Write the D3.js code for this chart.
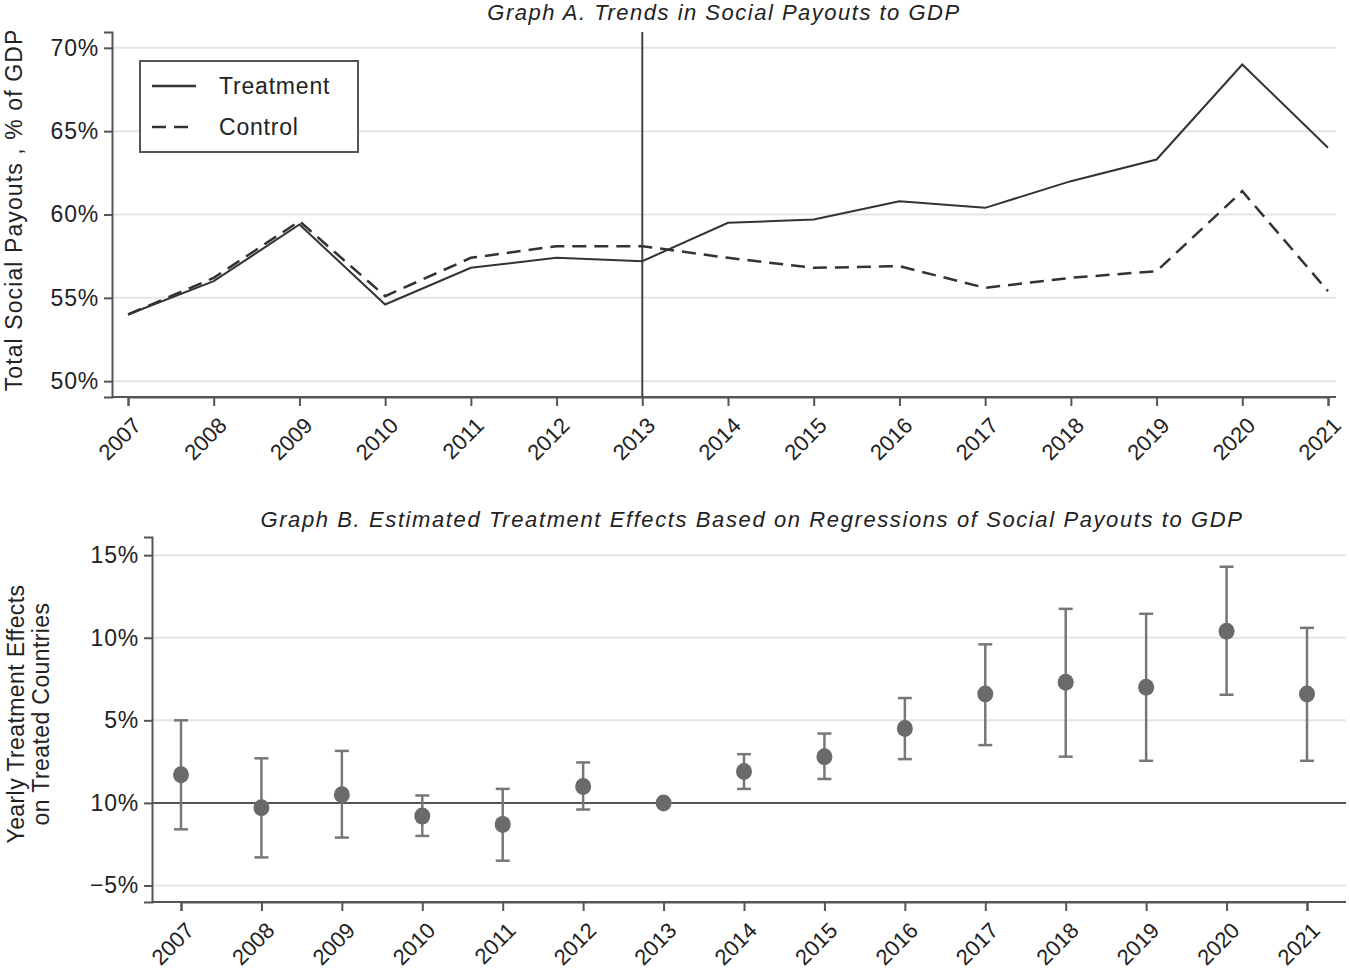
<!DOCTYPE html>
<html>
<head>
<meta charset="utf-8">
<script src="https://cdn.jsdelivr.net/npm/d3@7"></script>
<style>
  body { margin: 0; background: #fff; }
  svg { font-family: "Liberation Sans", Arial, sans-serif; }
</style>
</head>
<body>
<svg id="chart" width="1350" height="975"></svg>
<script>
// ---- data ----
const years = [2007, 2008, 2009, 2010, 2011, 2012, 2013, 2014, 2015, 2016, 2017, 2018, 2019, 2020, 2021];

// Graph A, % of GDP
const treatment = [54.0, 56.0, 59.4, 54.6, 56.8, 57.4, 57.2, 59.5, 59.7, 60.8, 60.4, 62.0, 63.3, 69.0, 64.0];
const control = [54.0, 56.2, 59.6, 55.1, 57.4, 58.1, 58.1, 57.4, 56.8, 56.9, 55.6, 56.2, 56.6, 61.4, 55.4];
const ticksA = [50, 55, 60, 65, 70];
const tickLabelsA = ["50%", "55%", "60%", "65%", "70%"];

// Graph B, treatment effects with confidence bounds
const effect = [1.7, -0.3, 0.5, -0.8, -1.3, 1.0, 0.0, 1.9, 2.8, 4.5, 6.6, 7.3, 7.0, 10.4, 6.6];
const lower = [-1.6, -3.3, -2.1, -2.0, -3.5, -0.4, 0.0, 0.85, 1.45, 2.65, 3.5, 2.8, 2.55, 6.55, 2.55];
const upper = [5.0, 2.7, 3.15, 0.45, 0.85, 2.45, 0.0, 2.95, 4.2, 6.35, 9.6, 11.75, 11.45, 14.3, 10.6];
const ticksB = [-5, 0, 5, 10, 15];
const tickLabelsB = ["\u22125%", "10%", "5%", "10%", "15%"];

const svg = d3.select("#chart");
const axisColor = "#555";
const gridColor = "#e4e4e4";
const textColor = "#222";

function drawYAxis(g, y, ticks, labels, left, right) {
  g.append("g")
    .selectAll("line")
    .data(ticks)
    .join("line")
    .attr("x1", left).attr("x2", right)
    .attr("y1", d => y(d)).attr("y2", d => y(d))
    .attr("stroke", gridColor).attr("stroke-width", 2);

  const ax = g.append("g")
    .attr("transform", `translate(${left},0)`)
    .call(d3.axisLeft(y).tickValues(ticks).tickSize(8).tickPadding(5)
      .tickFormat((d, i) => labels[i]));
  ax.select(".domain").attr("stroke", axisColor).attr("stroke-width", 2);
  ax.selectAll(".tick line").attr("stroke", axisColor).attr("stroke-width", 2);
  ax.selectAll(".tick text")
    .attr("font-size", 23).attr("letter-spacing", 0.8).attr("fill", textColor);
}

function drawXAxis(g, x, bottom) {
  const ax = g.append("g")
    .attr("transform", `translate(0,${bottom})`)
    .call(d3.axisBottom(x).tickValues(years).tickSize(9).tickFormat(d3.format("d")));
  ax.select(".domain").attr("stroke", axisColor).attr("stroke-width", 2);
  ax.selectAll(".tick line").attr("stroke", axisColor).attr("stroke-width", 2);
  ax.selectAll(".tick text")
    .attr("font-size", 22).attr("fill", textColor)
    .attr("text-anchor", "end")
    .attr("dy", "0.35em")
    .attr("transform", "translate(0,16) rotate(-45)");
}

// ---- Graph A ----
const A = { left: 112, right: 1336, top: 32, bottom: 397 };
const xA = d3.scaleLinear().domain([2007, 2021]).range([128, 1328]);
const yA = d3.scaleLinear().domain([49.05, 70.95]).range([A.bottom, A.top]);
const gA = svg.append("g");

drawYAxis(gA, yA, ticksA, tickLabelsA, A.left, A.right);
drawXAxis(gA, xA, A.bottom);
gA.append("line")
  .attr("x1", A.left).attr("x2", A.right)
  .attr("y1", A.bottom).attr("y2", A.bottom)
  .attr("stroke", axisColor).attr("stroke-width", 2);

gA.append("line")
  .attr("x1", xA(2013)).attr("x2", xA(2013))
  .attr("y1", A.top).attr("y2", A.bottom)
  .attr("stroke", "#444").attr("stroke-width", 2);

const lineA = d3.line().x((d, i) => xA(years[i])).y(d => yA(d));

gA.append("path")
  .datum(control)
  .attr("d", lineA)
  .attr("fill", "none").attr("stroke", "#333")
  .attr("stroke-width", 2.5).attr("stroke-dasharray", "14,8");

gA.append("path")
  .datum(treatment)
  .attr("d", lineA)
  .attr("fill", "none").attr("stroke", "#333").attr("stroke-width", 2);

gA.append("text")
  .attr("x", 724).attr("y", 20)
  .attr("text-anchor", "middle")
  .attr("font-size", 22).attr("letter-spacing", 1.5)
  .attr("font-style", "italic").attr("fill", textColor)
  .text("Graph A. Trends in Social Payouts to GDP");

gA.append("text")
  .attr("transform", "translate(22,210) rotate(-90)")
  .attr("text-anchor", "middle")
  .attr("font-size", 23).attr("letter-spacing", 1.1).attr("fill", textColor)
  .text("Total Social Payouts , % of GDP");

// legend
const leg = gA.append("g").attr("transform", "translate(140,61)");
leg.append("rect")
  .attr("width", 218).attr("height", 91)
  .attr("fill", "#fff").attr("stroke", "#555").attr("stroke-width", 2);
const legItems = [
  { name: "Treatment", dash: null, y: 25 },
  { name: "Control", dash: "14,8", y: 66 }
];
legItems.forEach(it => {
  leg.append("line")
    .attr("x1", 12).attr("x2", 56)
    .attr("y1", it.y).attr("y2", it.y)
    .attr("stroke", "#333").attr("stroke-width", 2.3)
    .attr("stroke-dasharray", it.dash);
  leg.append("text")
    .attr("x", 79).attr("y", it.y).attr("dy", "0.35em")
    .attr("font-size", 23).attr("letter-spacing", 0.8).attr("fill", textColor)
    .text(it.name);
});

// ---- Graph B ----
const B = { left: 152, right: 1346, top: 537, bottom: 902 };
const xB = d3.scaleLinear().domain([2007, 2021]).range([181, 1307]);
const yB = d3.scaleLinear().domain([-6.0, 16.1]).range([B.bottom, B.top]);
const gB = svg.append("g");

drawYAxis(gB, yB, ticksB, tickLabelsB, B.left, B.right);
drawXAxis(gB, xB, B.bottom);
gB.append("line")
  .attr("x1", B.left).attr("x2", B.right)
  .attr("y1", B.bottom).attr("y2", B.bottom)
  .attr("stroke", axisColor).attr("stroke-width", 2);

gB.append("line")
  .attr("x1", B.left).attr("x2", B.right)
  .attr("y1", yB(0)).attr("y2", yB(0))
  .attr("stroke", "#555").attr("stroke-width", 2);

const pts = years.map((yr, i) => ({ yr, est: effect[i], lo: lower[i], hi: upper[i] }));
const ci = gB.append("g").attr("stroke", "#777").attr("stroke-width", 2.5);
ci.selectAll(".bar")
  .data(pts.filter(d => d.hi > d.lo))
  .join("line")
  .attr("x1", d => xB(d.yr)).attr("x2", d => xB(d.yr))
  .attr("y1", d => yB(d.lo)).attr("y2", d => yB(d.hi));
["lo", "hi"].forEach(k => {
  ci.selectAll(".cap-" + k)
    .data(pts.filter(d => d.hi > d.lo))
    .join("line")
    .attr("x1", d => xB(d.yr) - 7).attr("x2", d => xB(d.yr) + 7)
    .attr("y1", d => yB(d[k])).attr("y2", d => yB(d[k]));
});

gB.append("g")
  .selectAll("ellipse")
  .data(pts)
  .join("ellipse")
  .attr("cx", d => xB(d.yr)).attr("cy", d => yB(d.est))
  .attr("rx", 8).attr("ry", 8.5)
  .attr("fill", "#6a6a6a");

gB.append("text")
  .attr("x", 752).attr("y", 527)
  .attr("text-anchor", "middle")
  .attr("font-size", 22).attr("letter-spacing", 1.6)
  .attr("font-style", "italic").attr("fill", textColor)
  .text("Graph B. Estimated Treatment Effects Based on Regressions of Social Payouts to GDP");

const yl = gB.append("text")
  .attr("transform", "translate(0,714) rotate(-90)")
  .attr("text-anchor", "middle")
  .attr("font-size", 23).attr("letter-spacing", 0.4).attr("fill", textColor);
yl.append("tspan").attr("x", 0).attr("y", 24).text("Yearly Treatment Effects");
yl.append("tspan").attr("x", 0).attr("y", 49).text("on Treated Countries");
</script>
</body>
</html>
